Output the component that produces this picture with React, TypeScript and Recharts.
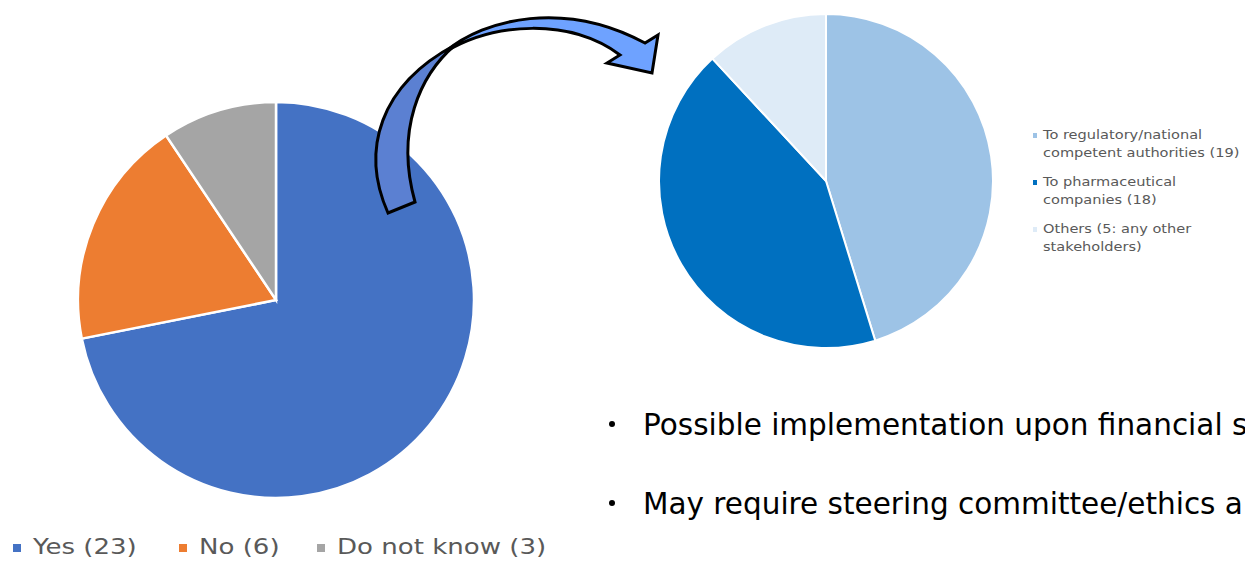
import { Cell, Legend, Pie, PieChart } from "recharts";

const answerLabels = ["Yes (23)", "No (6)", "Do not know (3)"];
const answerCounts = [23, 6, 3];
const answerColors = ["#4472C4", "#ED7D31", "#A5A5A5"];

const shareLabels = [
  "To regulatory/national competent authorities (19)",
  "To pharmaceutical companies (18)",
  "Others (5: any other stakeholders)",
];
const shareLines = [
  ["To regulatory/national", "competent authorities (19)"],
  ["To pharmaceutical", "companies (18)"],
  ["Others (5: any other", "stakeholders)"],
];
const shareCounts = [19, 18, 5];
const shareColors = ["#9DC3E6", "#0070C0", "#DEEBF7"];

const bullets = [
  "Possible implementation upon financial support",
  "May require steering committee/ethics approval",
];

const answers = answerLabels.map((name, i) => ({ name, value: answerCounts[i] }));
const shares = shareLabels.map((name, i) => ({ name, value: shareCounts[i], lines: shareLines[i] }));

const font = "'DejaVu Sans', sans-serif";
const legendX = [13, 179, 317];

function BottomLegend() {
  return (
    <div style={{ position: "absolute", left: 0, top: 0, fontFamily: font, fontSize: 20.5, color: "#595959" }}>
      {answers.map((d, i) => (
        <div key={d.name}>
          <span style={{ position: "absolute", left: legendX[i], top: 544, width: 8, height: 8, background: answerColors[i] }} />
          <span
            style={{
              position: "absolute",
              left: legendX[i] + 20,
              top: 535,
              whiteSpace: "nowrap",
              transform: "scaleX(1.27)",
              transformOrigin: "left",
            }}
          >
            {d.name}
          </span>
        </div>
      ))}
    </div>
  );
}

function SideLegend() {
  return (
    <div style={{ position: "absolute", left: 393, top: 126, fontFamily: font, fontSize: 13, lineHeight: "18px", color: "#595959" }}>
      {shares.map((d, i) => (
        <div key={d.name} style={{ display: "flex", marginBottom: 11 }}>
          <span style={{ width: 4, height: 5, background: shareColors[i], marginRight: 6, marginTop: 7, flexShrink: 0 }} />
          <div style={{ transform: "scaleX(1.12)", transformOrigin: "left", whiteSpace: "nowrap" }}>
            {d.lines.map((l) => (
              <div key={l}>{l}</div>
            ))}
          </div>
        </div>
      ))}
    </div>
  );
}

function Arrow() {
  return (
    <svg width={1245} height={562} style={{ position: "absolute", left: 0, top: 0, pointerEvents: "none" }}>
      <path
        d="M 388 213 C 360 150, 380 85, 455 45 C 420 75, 395 130, 415 202 Z"
        fill="#5B80D2"
        stroke="#000"
        strokeWidth={3}
        strokeLinejoin="miter"
      />
      <path
        d="M 445 52 C 485 18, 565 0, 645 43 L 658 35 L 652 73 L 607 63 L 620 55 C 570 18, 495 22, 445 52 Z"
        fill="#6EA2FF"
        stroke="#000"
        strokeWidth={3}
        strokeLinejoin="miter"
      />
    </svg>
  );
}

export default function App() {
  return (
    <div style={{ position: "absolute", left: 0, top: 0, width: 1245, height: 562, overflow: "hidden", background: "#fff" }}>
      <div style={{ position: "absolute", left: 0, top: 0 }}>
        <PieChart width={560} height={562} margin={{ top: 0, right: 0, bottom: 0, left: 0 }}>
          <Pie
            data={answers}
            dataKey="value"
            nameKey="name"
            cx={276}
            cy={300}
            outerRadius={198}
            startAngle={90}
            endAngle={-270}
            stroke="#fff"
            strokeWidth={2.5}
            isAnimationActive={false}
          >
            {answers.map((d, i) => (
              <Cell key={d.name} fill={answerColors[i]} />
            ))}
          </Pie>
          <Legend content={() => null} />
        </PieChart>
        <BottomLegend />
      </div>
      <div style={{ position: "absolute", left: 640, top: 0 }}>
        <PieChart width={605} height={360} margin={{ top: 0, right: 0, bottom: 0, left: 0 }}>
          <Pie
            data={shares}
            dataKey="value"
            nameKey="name"
            cx={186}
            cy={181}
            outerRadius={167}
            startAngle={90}
            endAngle={-270}
            stroke="#fff"
            strokeWidth={2}
            isAnimationActive={false}
          >
            {shares.map((d, i) => (
              <Cell key={d.name} fill={shareColors[i]} />
            ))}
          </Pie>
          <Legend content={() => null} />
        </PieChart>
        <SideLegend />
      </div>
      <Arrow />
      {bullets.map((b, i) => (
        <div key={b}>
          <span
            style={{
              position: "absolute",
              left: 609,
              top: 421 + i * 79,
              width: 6,
              height: 6,
              borderRadius: 3,
              background: "#000",
            }}
          />
          <span
            style={{
              position: "absolute",
              left: 643,
              top: 408 + i * 79,
              fontFamily: font,
              fontSize: 29.5,
              color: "#000",
              whiteSpace: "nowrap",
            }}
          >
            {b}
          </span>
        </div>
      ))}
    </div>
  );
}
